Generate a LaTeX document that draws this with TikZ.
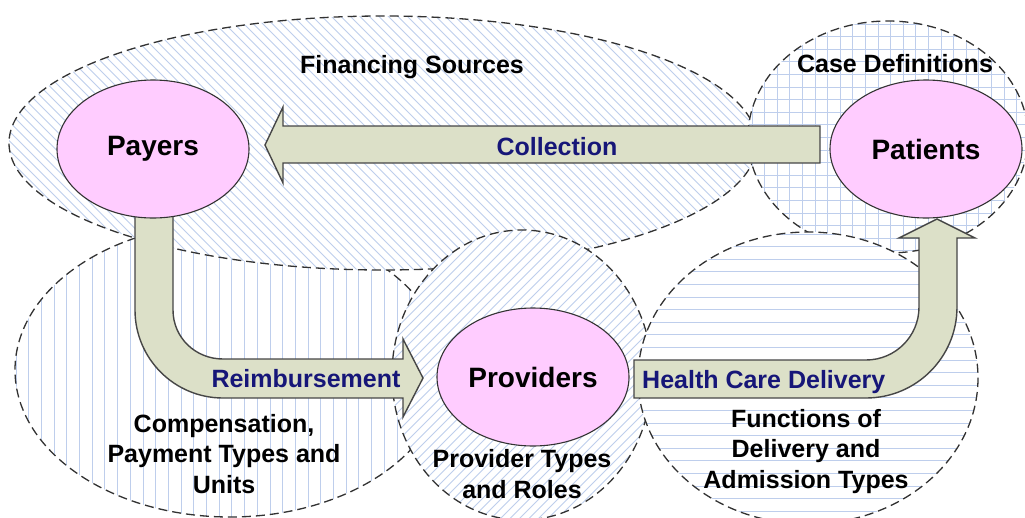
\documentclass[tikz,border=0pt]{standalone}
\usepackage{fontspec}
\setmainfont{Liberation Sans}
\usetikzlibrary{shapes.geometric}
\definecolor{hatch}{RGB}{190,206,236}
\definecolor{arrowfill}{RGB}{220,224,200}
\definecolor{arrowline}{RGB}{70,70,70}
\definecolor{pinkfill}{RGB}{255,204,255}
\definecolor{navy}{RGB}{22,22,120}
\definecolor{dashline}{RGB}{50,50,50}
\newcommand\bigfnt{\fontsize{28}{32}\selectfont\bfseries}
\newcommand\catfnt{\fontsize{25}{30.5}\selectfont\bfseries}
\begin{document}
\begin{tikzpicture}[x=1pt,y=-1pt,
  border/.style={draw=dashline,line width=1.3pt,dash pattern=on 9pt off 5pt},
  hatchline/.style={draw=hatch,line width=0.9pt},
  blockarrow/.style={fill=arrowfill,draw=arrowline,line width=1.4pt,line join=miter},
  actor/.style={ellipse,fill=pinkfill,draw=black!80,line width=1.1pt,minimum width=192pt,minimum height=138pt,inner sep=0pt,font=\bigfnt},
  cat/.style={font=\catfnt,text=black,align=center,inner sep=0pt},
  flow/.style={font=\catfnt,text=navy,inner sep=0pt}]
\useasboundingbox (0,0) rectangle (1025,517);
\clip (0,0) rectangle (1025,517);
\fill[white] (0,0) rectangle (1025,517);
% region: compensation (vertical lines)
\fill[white] (230,370) ellipse [x radius=215,y radius=147];
\begin{scope}
  \clip (230,370) ellipse [x radius=215,y radius=147];
  \foreach \x in {16,28.7,...,446} \draw[hatchline] (\x,220) -- (\x,520);
\end{scope}
\draw[border] (230,370) ellipse [x radius=215,y radius=147];
% region: financing sources (back diagonal)
\fill[white] (383,143) ellipse [x radius=374,y radius=127];
\begin{scope}
  \clip (383,143) ellipse [x radius=374,y radius=127];
  \foreach \a in {-260,-250.5,...,760} \draw[hatchline] (\a,14) -- ({\a+258},272);
\end{scope}
\draw[border] (383,143) ellipse [x radius=374,y radius=127];
% region: case definitions (grid)
\fill[white] (888,137) ellipse [x radius=140,y radius=116];
\begin{scope}
  \clip (888,137) ellipse [x radius=140,y radius=116];
  \foreach \x in {752,764.6,...,1030} \draw[hatchline] (\x,18) -- (\x,256);
  \foreach \y in {24,36.6,...,256} \draw[hatchline] (745,\y) -- (1030,\y);
\end{scope}
\draw[border] (888,137) ellipse [x radius=140,y radius=116];
% region: provider types (forward diagonal)
\fill[white] (522,375) ellipse [x radius=130,y radius=145];
\begin{scope}
  \clip (522,375) ellipse [x radius=130,y radius=145];
  \foreach \a in {96,105.5,...,660} \draw[hatchline] (\a,524) -- ({\a+296},228);
\end{scope}
\draw[border] (522,375) ellipse [x radius=130,y radius=145];
% region: functions of delivery (horizontal lines)
\fill[white] (808,378) ellipse [x radius=170,y radius=146];
\begin{scope}
  \clip (808,378) ellipse [x radius=170,y radius=146];
  \foreach \y in {234,246.6,...,526} \draw[hatchline] (636,\y) -- (980,\y);
\end{scope}
\draw[border] (808,378) ellipse [x radius=170,y radius=146];
% block arrows
\draw[blockarrow] (820,126) -- (283,126) -- (283,107) -- (265,145) -- (283,183) -- (283,163) -- (820,163) -- cycle;
\draw[blockarrow] (135,205) -- (135,310) .. controls (135,358.6) and (174.4,398) .. (223,398)
  -- (403,398) -- (403,417) -- (423,378) -- (403,339) -- (403,359) -- (223,359)
  .. controls (195.4,359) and (173,337.6) .. (173,310) -- (173,205) -- cycle;
\draw[blockarrow] (634,360) -- (866,360) .. controls (895.3,360) and (919,336.3) .. (919,307)
  -- (919,238) -- (899,238) -- (937,219) -- (975,238) -- (957,238) -- (957,307)
  .. controls (957,357.3) and (916.3,398) .. (866,398) -- (634,398) -- cycle;
% actors
\node[actor] (payers) at (153,149) {Payers};
\node[actor] (patients) at (926,149) {Patients};
\node[actor] (providers) at (533,377) {Providers};
% labels
\node[cat,anchor=base] (fin) at (412,73) {Financing Sources};
\node[cat,anchor=base] (case) at (895,72) {Case Definitions};
\node[cat,anchor=base] (comp) at (224,493) {Compensation,\\Payment Types and\\Units};
\node[cat,anchor=base] (prov) at (522,498) {Provider Types\\and Roles};
\node[cat,anchor=base] (func) at (806,488) {Functions of\\Delivery and\\Admission Types};
\node[flow,anchor=base] (coll) at (557,155) {Collection};
\node[flow,anchor=base] (reimb) at (306,387) {Reimbursement};
\node[flow,anchor=base west] (hcd) at (642,388) {Health Care Delivery};
\end{tikzpicture}
\end{document}
